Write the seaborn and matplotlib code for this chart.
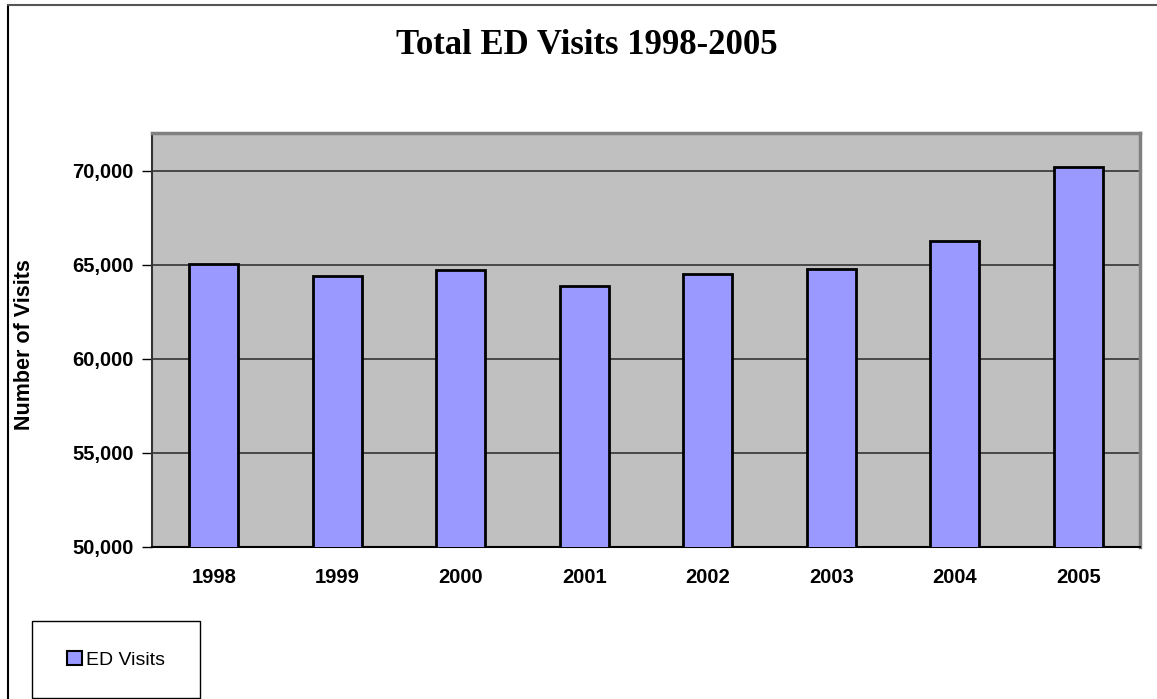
import matplotlib
matplotlib.use('Agg')
import matplotlib.pyplot as plt
from matplotlib.patches import Rectangle, Patch
from matplotlib.lines import Line2D
import seaborn as sns
import pandas as pd

years = ['1998', '1999', '2000', '2001', '2002', '2003', '2004', '2005']
visits = [65050, 64380, 64720, 63890, 64520, 64790, 66270, 70210]
y_ticks = [50000, 55000, 60000, 65000, 70000]

df = pd.DataFrame({'year': years, 'visits': visits})

sns.set_style('white')
plt.rcParams['font.family'] = ['Liberation Sans', 'DejaVu Sans']
plt.rcParams['text.color'] = 'black'
plt.rcParams['xtick.color'] = 'black'
plt.rcParams['ytick.color'] = 'black'
plt.rcParams['axes.labelcolor'] = 'black'

fig = plt.figure(figsize=(11.57, 6.99), dpi=100)
ax = fig.add_axes([152 / 1157, 1 - 547 / 699, 988 / 1157, 414 / 699])
ax.set_facecolor('#C0C0C0')

sns.barplot(data=df, x='year', y='visits', color='#9999FF', width=0.4,
            edgecolor='black', linewidth=2, saturation=1, ax=ax, zorder=3)

ax.set_xlim(-0.5, 7.5)
ax.set_ylim(50000, 72000)
ax.set_yticks(y_ticks)
ax.set_yticklabels([f'{v:,}' for v in y_ticks], fontsize=14.5, fontweight='bold')
ax.set_xticks(range(len(years)))
ax.set_xticklabels(years, fontsize=14.5, fontweight='bold')
ax.set_xticks([i - 0.5 for i in range(len(years) + 1)], minor=True)
ax.tick_params(axis='x', which='major', length=0, pad=15)
ax.tick_params(axis='x', which='minor', length=6, width=1, color='black', direction='out')
ax.tick_params(axis='y', length=7, width=1, color='black', direction='out', pad=6, left=True)
ax.grid(axis='y', color='#333333', linewidth=1.2, zorder=1)
ax.set_axisbelow(True)

for side in ['top', 'right']:
    ax.spines[side].set_color('#808080')
    ax.spines[side].set_linewidth(2.5)
ax.spines['left'].set_color('#333333')
ax.spines['left'].set_linewidth(1.5)
ax.spines['bottom'].set_color('black')
ax.spines['bottom'].set_linewidth(1.5)

ax.set_xlabel('')
ax.set_ylabel('Number of Visits', fontsize=15.5, fontweight='bold')
ax.yaxis.set_label_coords((35 - 152) / 988, (547 - 345) / 414)

fig.text(587 / 1157, 1 - 45 / 699, 'Total ED Visits 1998-2005', ha='center', va='center',
         fontsize=25, fontweight='bold', family=['Liberation Serif', 'DejaVu Serif'])

# outer chart border (left and top edges visible)
fig.lines.append(Line2D([8 / 1157, 8 / 1157], [0, 1 - 5 / 699], transform=fig.transFigure,
                        color='black', linewidth=1.5))
fig.lines.append(Line2D([8 / 1157, 1], [1 - 5 / 699, 1 - 5 / 699], transform=fig.transFigure,
                        color='#555555', linewidth=1.5))

# legend box
fig.patches.append(Rectangle((32 / 1157, 1 - 698 / 699), 168 / 1157, 77 / 699,
                             transform=fig.transFigure, fill=False,
                             edgecolor='black', linewidth=1))
handle = Patch(facecolor='#9999FF', edgecolor='black', linewidth=1.5)
fig.legend([handle], ['ED Visits'], loc='center',
           bbox_to_anchor=(116 / 1157, 1 - 660 / 699), frameon=False,
           fontsize=14, handlelength=0.75, handleheight=0.75, handletextpad=0.2)

fig.savefig('out.png', dpi=100, facecolor='white')
